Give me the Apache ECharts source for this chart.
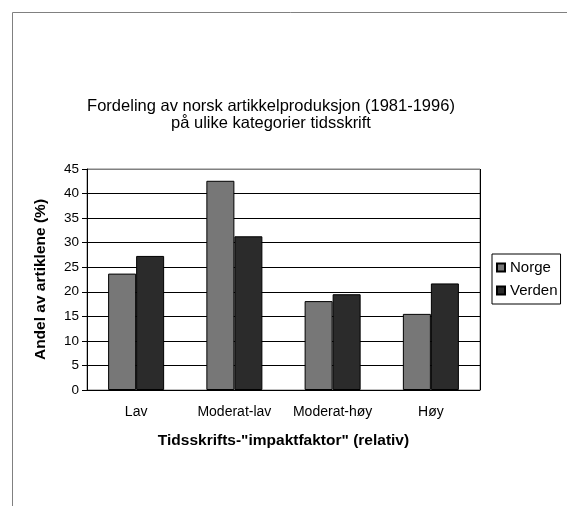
<!DOCTYPE html>
<html>
  <head>
    <meta charset="utf-8" />
    <title>Fordeling av norsk artikkelproduksjon</title>
    <script src="https://cdn.jsdelivr.net/npm/echarts@6/dist/echarts.min.js"></script>
    <style>
      body { margin: 0; background: #fff; }
    </style>
  </head>
  <body>
    <div id="main" style="width: 567px; height: 506px"></div>
    <script type="text/javascript">
      var categories = ['Lav', 'Moderat-lav', 'Moderat-høy', 'Høy'];
      var norge = [23.7, 42.6, 18.1, 15.5];
      var verden = [27.3, 31.3, 19.5, 21.7];

      var font = '"Liberation Sans", Arial, sans-serif';
      var myChart = echarts.init(document.getElementById('main'));

      // gitterlinjer svarte, øverste linje (45) grå som rammen
      var gridColors = ['#000', '#000', '#000', '#000', '#000', '#000', '#000', '#000', '#000', '#808080'];

      var option = {
        backgroundColor: '#fff',
        animation: false,
        textStyle: { fontFamily: font },
        title: {
          text: 'Fordeling av norsk artikkelproduksjon (1981-1996)\npå ulike kategorier tidsskrift',
          left: 266,
          top: 93,
          textAlign: 'center',
          textStyle: {
            fontFamily: font,
            fontSize: 16.5,
            fontWeight: 'normal',
            color: '#000',
            lineHeight: 17
          }
        },
        // ytre ramme rundt diagrammet
        graphic: [
          {
            type: 'rect',
            shape: { x: 12.5, y: 12.5, width: 700, height: 700 },
            style: { fill: 'none', stroke: '#808080', lineWidth: 1 },
            silent: true
          }
        ],
        legend: {
          orient: 'vertical',
          left: 492,
          top: 254,
          itemWidth: 8,
          itemHeight: 8,
          itemGap: 8,
          padding: [6, 3, 6, 4],
          borderColor: '#000',
          borderWidth: 1,
          textStyle: { fontFamily: font, fontSize: 15, color: '#000', padding: [0, 0, 0, 0] },
          data: [
            { name: 'Norge', icon: 'rect' },
            { name: 'Verden', icon: 'rect' }
          ]
        },
        grid: {
          left: 87,
          right: 87,
          top: 169,
          bottom: 116,
          show: true,
          borderColor: '#808080',
          borderWidth: 1
        },
        xAxis: {
          type: 'category',
          data: categories,
          name: 'Tidsskrifts-"impaktfaktor" (relativ)',
          nameLocation: 'middle',
          nameGap: 43,
          nameTextStyle: { fontFamily: font, fontSize: 15.5, fontWeight: 'bold', color: '#000' },
          axisLine: { lineStyle: { color: '#000', width: 1 } },
          axisTick: { interval: 1, length: 5, lineStyle: { color: '#000' } },
          axisLabel: { interval: 0, margin: 15, fontSize: 14, color: '#000' },
          splitLine: {
            show: true,
            interval: function (index) { return index === 2; },
            lineStyle: { color: '#000', width: 1 }
          }
        },
        yAxis: {
          type: 'value',
          min: 0,
          max: 45,
          interval: 5,
          name: 'Andel av artiklene (%)',
          nameLocation: 'middle',
          nameGap: 38,
          nameTextStyle: { fontFamily: font, fontSize: 15.5, fontWeight: 'bold', color: '#000' },
          axisLine: { show: true, lineStyle: { color: '#000', width: 1 } },
          axisTick: { show: true, length: 5, lineStyle: { color: '#000' } },
          axisLabel: { margin: 8, fontSize: 13.5, color: '#000' },
          splitLine: { show: true, lineStyle: { color: gridColors, width: 1 } }
        },
        series: [
          {
            name: 'Norge',
            type: 'bar',
            data: norge,
            barGap: '0%',
            barCategoryGap: '43%',
            itemStyle: { color: '#777777', borderColor: '#000', borderWidth: 1 }
          },
          {
            name: 'Verden',
            type: 'bar',
            data: verden,
            itemStyle: { color: '#2b2b2b', borderColor: '#000', borderWidth: 1 }
          }
        ]
      };

      option && myChart.setOption(option);
    </script>
  </body>
</html>
